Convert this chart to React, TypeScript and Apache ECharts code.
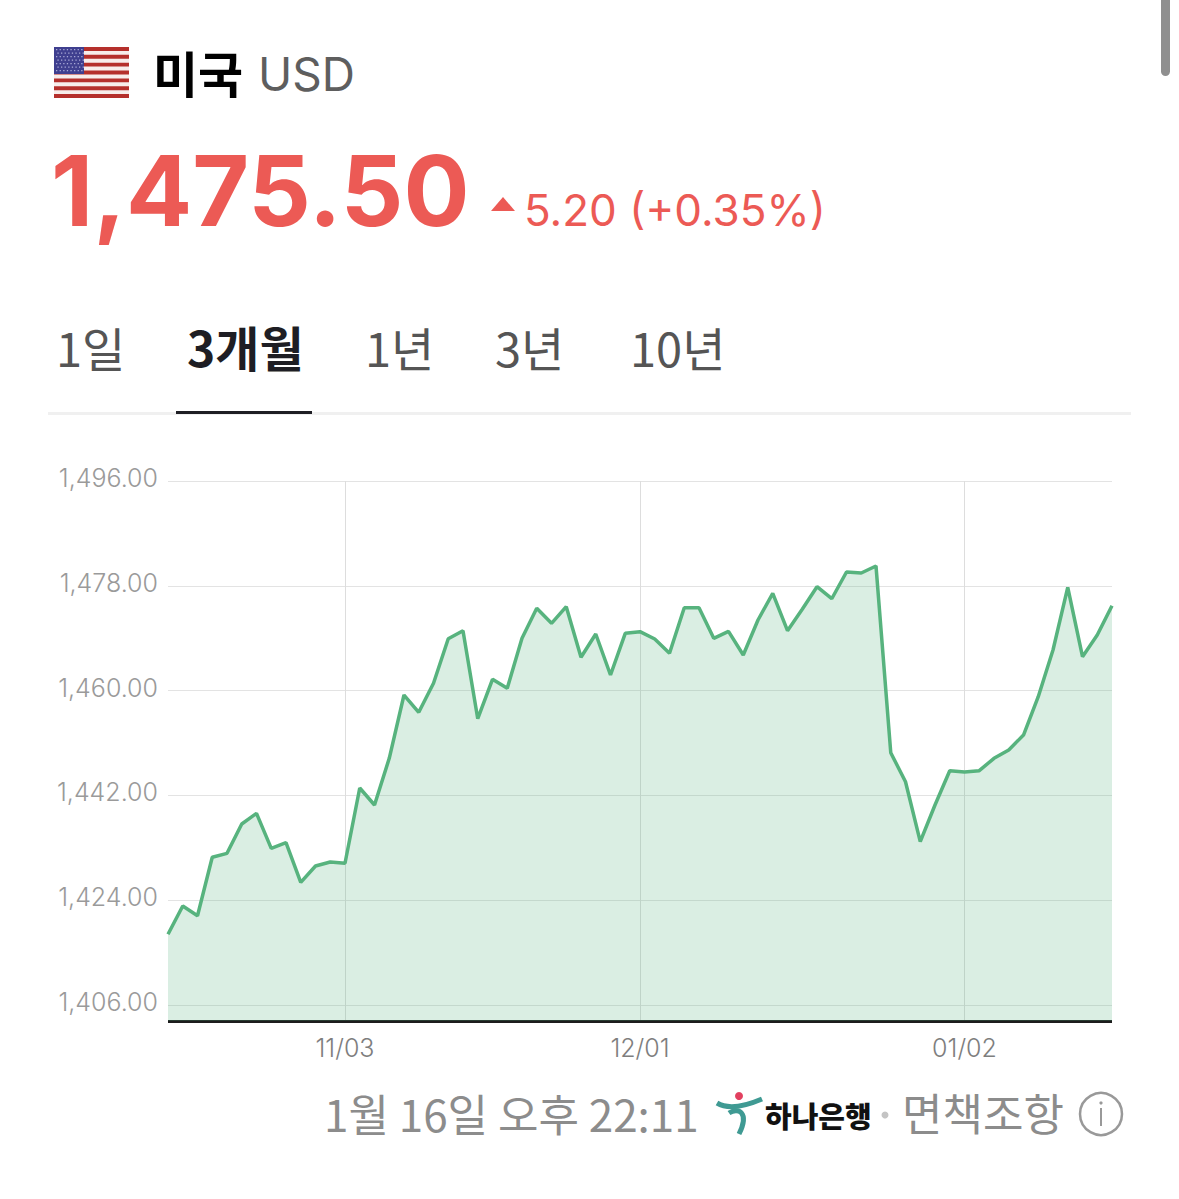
import React, { useEffect, useRef } from "react";
import * as echarts from "echarts";

const dates = [
  "10/16","10/17","10/20","10/21","10/22","10/23","10/24","10/27","10/28","10/29","10/30","10/31","11/03",
  "11/04","11/05","11/06","11/07","11/10","11/11","11/12","11/13","11/14","11/17","11/18","11/19","11/20","11/21",
  "11/24","11/25","11/26","11/27","11/28","12/01","12/02","12/03","12/04","12/05","12/08","12/09","12/10","12/11","12/12",
  "12/15","12/16","12/17","12/18","12/19","12/22","12/23","12/24","12/26","12/29","12/30","12/31","01/02",
  "01/05","01/06","01/07","01/08","01/09","01/12","01/13","01/14","01/15","01/16",
];
const rates = [
  1418.14,1423.0,1421.33,1431.37,1432.05,1437.09,1438.92,1432.91,1433.87,1427.07,1429.87,1430.56,1430.34,
  1443.27,1440.35,1448.37,1459.24,1456.27,1461.25,1468.91,1470.29,1455.17,1461.94,1460.39,1468.98,1474.13,1471.56,
  1474.41,1465.72,1469.72,1462.68,1469.84,1470.12,1468.86,1466.41,1474.24,1474.24,1468.98,1470.18,1466.11,1472.13,1476.71,
  1470.29,1473.96,1477.84,1475.78,1480.37,1480.2,1481.4,1449.33,1444.35,1434.05,1440.35,1446.24,1446.02,
  1446.24,1448.37,1449.8,1452.37,1458.95,1466.97,1477.74,1465.82,1469.55,1474.58,
];
const xTickLabels = ["11/03", "12/01", "01/02"];
const yTicks = [1406, 1424, 1442, 1460, 1478, 1496];
const tabs = ["1일", "3개월", "1년", "3년", "10년"];

const FONT = "'Noto Sans CJK KR', sans-serif";
const LATIN = "Inter, 'Noto Sans CJK KR', sans-serif";
const RED = "#EC5A55";

function flag() {
  const items: any[] = [];
  const x0 = 54, y0 = 47, w = 75, h = 51;
  items.push({ type: "rect", shape: { x: x0, y: y0, width: w, height: h }, style: { fill: "#F7EDEB" } });
  for (let i = 0; i < 13; i += 2) {
    items.push({ type: "rect", shape: { x: x0, y: y0 + (i * h) / 13, width: w, height: h / 13 }, style: { fill: "#B5302C" } });
  }
  items.push({ type: "rect", shape: { x: x0, y: y0, width: 30, height: 27 }, style: { fill: "#3F3F8F" } });
  for (let r = 0; r < 7; r++) {
    for (let c = 0; c < 8; c++) {
      items.push({ type: "rect", shape: { x: x0 + 2 + c * 3.6 + (r % 2) * 1.4, y: y0 + 2 + r * 3.5, width: 1.3, height: 1.3 }, style: { fill: "#A9A9D6" } });
    }
  }
  return items;
}

function txt(text: string, x: number, y: number, size: number, fill: string, weight: any = 400, family = FONT, align = "left") {
  return { type: "text", x, y, style: { text, fontSize: size, fill, fontWeight: weight, fontFamily: family, textAlign: align, textVerticalAlign: "middle" } };
}

const tabX = [56, 187, 365, 495, 630];

export default function App() {
  const ref = useRef<HTMLDivElement>(null);
  useEffect(() => {
    document.body.style.margin = "0";
    document.body.style.background = "#fff";
    const chart = echarts.init(ref.current!, null, { renderer: "svg" });
    chart.setOption({
      animation: false,
      backgroundColor: "#ffffff",
      grid: { left: 168, top: 481, width: 944, height: 540, containLabel: false },
      xAxis: {
        type: "category",
        data: dates,
        boundaryGap: false,
        axisLine: { show: true, lineStyle: { color: "#1c1c1c", width: 3, cap: "butt" } },
        axisTick: { show: false },
        axisLabel: {
          interval: (_: number, v: string) => xTickLabels.includes(v),
          color: "#7e7e7e", fontSize: 25, fontFamily: LATIN, margin: 14, fontWeight: 300,
        },
        splitLine: {
          show: true,
          interval: (_: number, v: string) => xTickLabels.includes(v),
          lineStyle: { color: "#dddddd", width: 1 },
        },
      },
      yAxis: {
        type: "value",
        min: 1403.25,
        max: 1496,
        axisLine: { show: false },
        axisTick: { show: false, customValues: yTicks },
        axisLabel: {
          customValues: yTicks,
          formatter: (v: number) => v.toLocaleString("en-US", { minimumFractionDigits: 2, maximumFractionDigits: 2 }),
          color: "#9a9a9a", fontSize: 25, fontFamily: LATIN, margin: 10, fontWeight: 300,
          verticalAlign: "bottom",
          lineHeight: 6,
        },
        splitLine: { show: true, lineStyle: { color: "#e3e3e3", width: 1 } },
      },
      series: [
        {
          type: "line",
          data: rates,
          symbol: "none",
          lineStyle: { color: "#57B37E", width: 3.5 },
          areaStyle: { color: "#57B37E", opacity: 0.22, origin: "start" },
          clip: true,
        },
      ],
      graphic: [
        {
          type: "group",
          silent: true,
          children: [
            ...flag(),
            txt("미국", 153, 71, 49, "#000000", 700),
            txt("USD", 258, 74, 46, "#5e5e5e", 400, LATIN),
            txt("1,475.50", 51, 190, 98, RED, 700, LATIN),
            { type: "polygon", shape: { points: [[491, 211], [503, 197], [515, 211]] }, style: { fill: RED } },
            txt("5.20 (+0.35%)", 524, 210, 44, RED, 400, LATIN),
            ...tabs.map((t, i) => txt(t, tabX[i], 346, i === 1 ? 48 : 47, i === 1 ? "#1e1e24" : "#555555", i === 1 ? 700 : 400, FONT)),
            { type: "rect", shape: { x: 48, y: 412, width: 1083, height: 3 }, style: { fill: "#f0f0f0" } },
            { type: "rect", shape: { x: 176, y: 411, width: 136, height: 3 }, style: { fill: "#1e1e24" } },
            { type: "rect", shape: { x: 1161, y: -10, width: 9, height: 86, r: 4.5 }, style: { fill: "#8f8f8f" } },
            txt("1월 16일 오후 22:11", 324, 1113, 44, "#8c8c8c"),
            { type: "circle", shape: { cx: 739, cy: 1096, r: 4 }, style: { fill: "#E2405F" } },
            { type: "bezierCurve", shape: { x1: 717, y1: 1103, cpx1: 730, cpy1: 1111, cpx2: 748, cpy2: 1105, x2: 762, y2: 1099 }, style: { stroke: "#3F9A93", lineWidth: 5, fill: "none" } },
            { type: "bezierCurve", shape: { x1: 729, y1: 1113, cpx1: 738, cpy1: 1107, cpx2: 750, cpy2: 1112, x2: 739, y2: 1134 }, style: { stroke: "#3F9A93", lineWidth: 5, fill: "none" } },
            txt("하나은행", 765, 1115, 29, "#111111", 900),
            { type: "circle", shape: { cx: 885, cy: 1115, r: 3.5 }, style: { fill: "#c4c4c4" } },
            txt("면책조항", 902, 1112, 44, "#8c8c8c"),
            { type: "circle", shape: { cx: 1101, cy: 1114, r: 21 }, style: { fill: "none", stroke: "#999999", lineWidth: 2.5 } },
            { type: "circle", shape: { cx: 1101, cy: 1103, r: 1.6 }, style: { fill: "#999999" } },
            { type: "rect", shape: { x: 1100, y: 1108, width: 2, height: 18 }, style: { fill: "#999999" } },
          ],
        },
      ],
    });
    return () => chart.dispose();
  }, []);
  return <div ref={ref} style={{ position: "absolute", left: 0, top: 0, width: 1179, height: 1199 }} />;
}
